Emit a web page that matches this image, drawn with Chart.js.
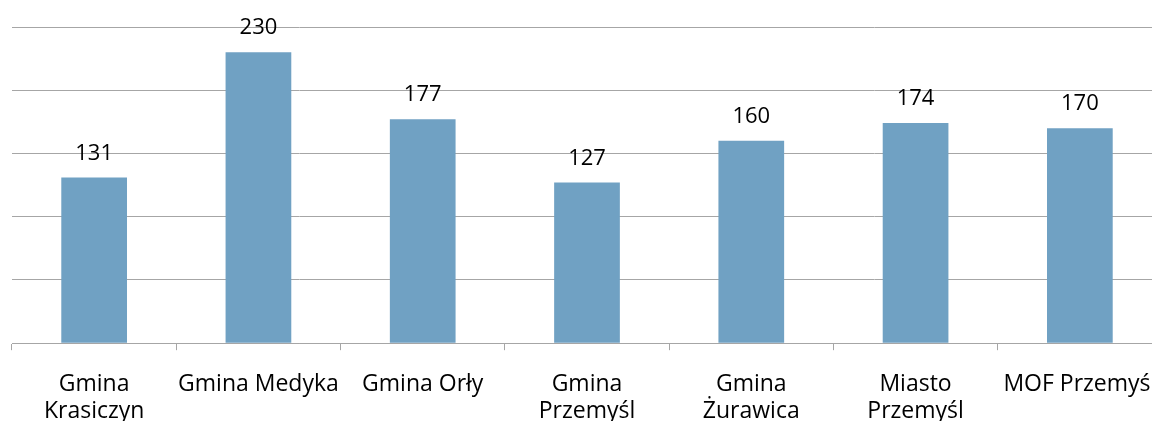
<!DOCTYPE html>
<html>
<head>
<meta charset="utf-8">
<script src="https://cdn.jsdelivr.net/npm/chart.js@4"></script>
<style>
  html, body { margin: 0; padding: 0; background: #fff; overflow: hidden; }
  #wrap { width: 1152px; height: 421px; overflow: hidden; }
</style>
</head>
<body>
<!-- canvas is bigger than the window: the reference crops the last category -->
<div id="wrap"><canvas id="barChart" width="1162" height="446"></canvas></div>
<script>
// data
const categories = [
    ['Gmina', 'Krasiczyn'],
    'Gmina Medyka',
    'Gmina Orły',
    ['Gmina', 'Przemyśl'],
    ['Gmina', 'Żurawica'],
    ['Miasto', 'Przemyśl'],
    'MOF Przemyśl'
];
const values = [131, 230, 177, 127, 160, 174, 170];
const yTicks = [0, 50, 100, 150, 200, 250];

const barColor = '#70a1c3';
const gridColor = '#a6a6a6';
const fontFamily = "'Open Sans', 'DejaVu Sans', sans-serif";

// draw the value above each bar
const valueLabels = {
    id: 'valueLabels',
    afterDatasetsDraw(chart) {
        const ctx = chart.ctx;
        const meta = chart.getDatasetMeta(0);
        ctx.save();
        ctx.fillStyle = '#000';
        ctx.font = '22px ' + fontFamily;
        ctx.textAlign = 'center';
        ctx.textBaseline = 'alphabetic';
        meta.data.forEach((bar, i) => {
            ctx.fillText(String(values[i]), bar.x, bar.y - 18);
        });
        ctx.restore();
    }
};

const ctx = document.getElementById('barChart').getContext('2d');
new Chart(ctx, {
    type: 'bar',
    data: {
        labels: categories,
        datasets: [{
            data: values,
            backgroundColor: barColor,
            borderWidth: 0,
            barPercentage: 0.4,
            categoryPercentage: 1
        }]
    },
    options: {
        responsive: false,
        animation: false,
        layout: { padding: { left: 12, top: 27, right: 0, bottom: 0 } },
        plugins: {
            legend: { display: false },
            tooltip: { enabled: false }
        },
        scales: {
            x: {
                grid: {
                    display: true,
                    drawOnChartArea: false,
                    drawTicks: true,
                    tickLength: 7,
                    color: gridColor,
                    offset: true
                },
                border: { display: true, color: gridColor, width: 1 },
                ticks: {
                    color: '#000',
                    padding: 21,
                    maxRotation: 0,
                    autoSkip: false,
                    font: { family: fontFamily, size: 23, lineHeight: 1.17 }
                },
                // labels may hang over the edges, don't shrink the plot for them
                afterFit: scale => {
                    scale.paddingLeft = 0;
                    scale.paddingRight = 0;
                }
            },
            y: {
                min: yTicks[0],
                max: yTicks[yTicks.length - 1],
                afterBuildTicks: axis => {
                    axis.ticks = yTicks.map(v => ({ value: v }));
                },
                grid: { color: gridColor, drawTicks: false },
                border: { display: false },
                ticks: { display: false }
            }
        }
    },
    plugins: [valueLabels]
});
</script>
</body>
</html>
